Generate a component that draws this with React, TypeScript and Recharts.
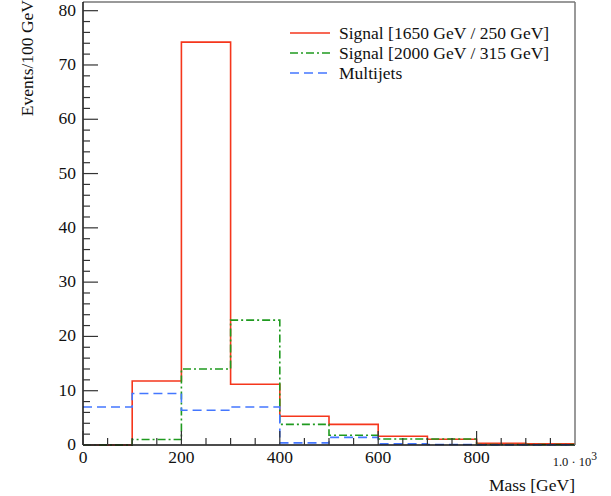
import { ComposedChart, Line, XAxis, YAxis } from "recharts";

// bin edges in GeV, 100 GeV wide bins
const massEdges = [0, 100, 200, 300, 400, 500, 600, 700, 800, 900, 1000];
const signal1650 = [0, 11.8, 74.2, 11.2, 5.3, 3.8, 1.6, 1.05, 0.3, 0.2];
const signal2000 = [0, 1.0, 14.0, 23.0, 3.8, 1.8, 1.1, 1.1, 0.1, 0.1];
const multijets = [7.0, 9.5, 6.4, 7.0, 0.4, 1.4, 0.2, 0.1, 0.05, 0.05];

const xMajorTicks = [0, 200, 400, 600, 800];
const yMajorTicks = [0, 10, 20, 30, 40, 50, 60, 70, 80];
const xAllTicks = Array.from({ length: 21 }, (_, i) => i * 50);
const yAllTicks = Array.from({ length: 41 }, (_, i) => i * 2);

const seriesNames = [
  "Signal [1650 GeV / 250 GeV]",
  "Signal [2000 GeV / 315 GeV]",
  "Multijets",
];

const FONT = "'Liberation Serif', serif";
const FS = 17.5;
const RED = "#f5361c";
const GREEN = "#1f9a1f";
const BLUE = "#4477ff";

// stepAfter needs one extra point at the last edge
const data = massEdges.map((mass, i) => {
  const b = Math.min(i, signal1650.length - 1);
  return {
    mass,
    s1650: signal1650[b],
    s2000: signal2000[b],
    multijets: multijets[b],
  };
});

const XTick = (props: any) => {
  const { x, y, payload } = props;
  const v = payload.value;
  const major = v % 200 === 0;
  return (
    <g>
      {v < 1000 && (
        <line x1={x} y1={y} x2={x} y2={y - (major ? 14 : 7)} stroke="#333" strokeWidth={1.2} />
      )}
      {major && xMajorTicks.includes(v) && (
        <text x={x} y={y + 18} textAnchor="middle" fontFamily={FONT} fontSize={FS} fill="#111">
          {v}
        </text>
      )}
      {v === 1000 && (
        <text x={x + 22} y={y + 21} textAnchor="end" fontFamily={FONT} fontSize={12.5} fill="#111">
          1.0 · 10
          <tspan dy={-6} fontSize={11.5}>3</tspan>
        </text>
      )}
    </g>
  );
};

const YTick = (props: any) => {
  const { x, y, payload } = props;
  const v = payload.value;
  const major = v % 10 === 0;
  return (
    <g>
      <line x1={x} y1={y} x2={x + (major ? 15 : 7)} y2={y} stroke="#333" strokeWidth={1.2} />
      {yMajorTicks.includes(v) && (
        <text x={x - 7} y={y + 5} textAnchor="end" fontFamily={FONT} fontSize={FS} fill="#111">
          {v}
        </text>
      )}
    </g>
  );
};

const legendStyles = [
  { color: RED, dash: undefined },
  { color: GREEN, dash: "8 3 2 3" },
  { color: BLUE, dash: "9 5" },
];

const LegendBox = () => (
  <div
    style={{
      position: "absolute",
      left: 288,
      top: 23,
      fontFamily: FONT,
      fontSize: FS,
      color: "#111",
    }}
  >
    {seriesNames.map((name, i) => (
      <div key={name} style={{ display: "flex", alignItems: "center", height: 20 }}>
        <svg width={42} height={20}>
          <line
            x1={2}
            y1={10}
            x2={42}
            y2={10}
            stroke={legendStyles[i].color}
            strokeWidth={1.6}
            strokeDasharray={legendStyles[i].dash}
          />
        </svg>
        <span style={{ marginLeft: 9, whiteSpace: "nowrap" }}>{name}</span>
      </div>
    ))}
  </div>
);

export default function App() {
  return (
    <div style={{ position: "absolute", left: 0, top: 0, width: 611, height: 496 }}>
      <ComposedChart
        width={611}
        height={496}
        data={data}
        margin={{ top: 1, right: 35, bottom: 50, left: 82 }}
      >
        <XAxis
          dataKey="mass"
          type="number"
          domain={[0, 1000]}
          ticks={xAllTicks}
          interval={0}
          height={1}
          tickSize={0}
          tickMargin={0}
          tick={<XTick />}
          axisLine={{ stroke: "#111", strokeWidth: 1.5 }}
          label={{
            content: (p: any) => (
              <text
                x={p.viewBox.x + p.viewBox.width}
                y={p.viewBox.y + 46}
                textAnchor="end"
                fontFamily={FONT}
                fontSize={FS}
                fill="#111"
              >
                Mass [GeV]
              </text>
            ),
          }}
        />
        <XAxis
          xAxisId="top"
          orientation="top"
          dataKey="mass"
          type="number"
          domain={[0, 1000]}
          height={1}
          tick={false}
          tickLine={false}
          axisLine={{ stroke: "#777", strokeWidth: 1.5 }}
        />
        <YAxis
          type="number"
          domain={[0, 81.6]}
          ticks={yAllTicks}
          interval={0}
          width={1}
          tickSize={0}
          tickMargin={0}
          tick={<YTick />}
          axisLine={{ stroke: "#111", strokeWidth: 1.5 }}
          label={{
            content: (p: any) => (
              <text
                x={0}
                y={0}
                transform={`translate(${p.viewBox.x - 49}, ${p.viewBox.y - 2}) rotate(-90)`}
                textAnchor="end"
                fontFamily={FONT}
                fontSize={FS}
                fill="#111"
              >
                Events/100 GeV
              </text>
            ),
          }}
        />
        <YAxis
          yAxisId="right"
          orientation="right"
          width={1}
          tick={false}
          tickLine={false}
          axisLine={{ stroke: "#777", strokeWidth: 1.5 }}
        />
        <Line
          type="stepAfter"
          dataKey="s1650"
          name={seriesNames[0]}
          stroke={RED}
          strokeWidth={1.6}
          dot={false}
          isAnimationActive={false}
        />
        <Line
          type="stepAfter"
          dataKey="s2000"
          name={seriesNames[1]}
          stroke={GREEN}
          strokeWidth={1.6}
          strokeDasharray="8 3 2 3"
          dot={false}
          isAnimationActive={false}
        />
        <Line
          type="stepAfter"
          dataKey="multijets"
          name={seriesNames[2]}
          stroke={BLUE}
          strokeWidth={1.6}
          strokeDasharray="9 5"
          dot={false}
          isAnimationActive={false}
        />
      </ComposedChart>
      <LegendBox />
    </div>
  );
}
